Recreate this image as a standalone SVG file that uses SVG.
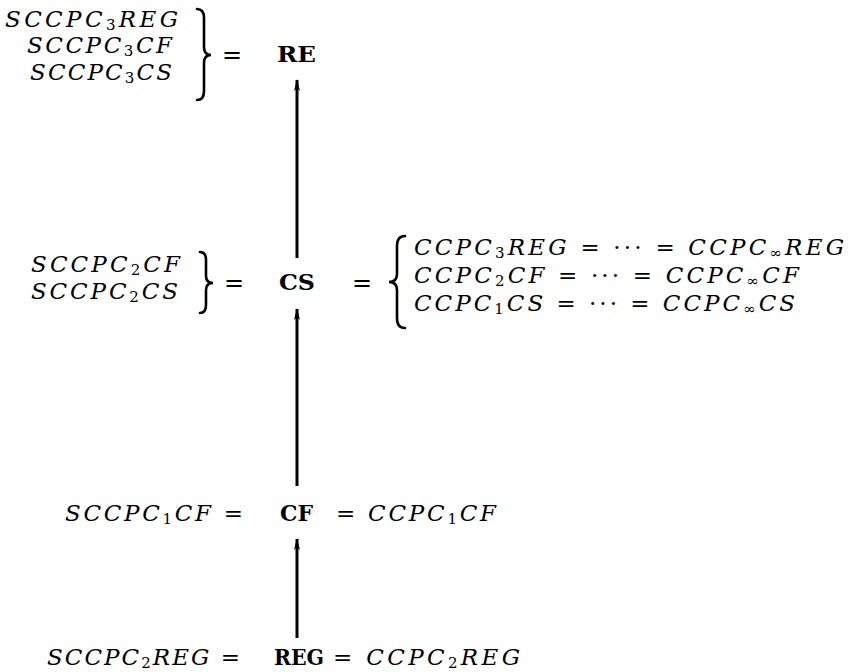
<svg xmlns="http://www.w3.org/2000/svg" width="851" height="672" viewBox="0 0 851 672">
<defs>
<style>
.m{font-family:"DejaVu Serif","Liberation Serif",serif;font-style:italic;font-size:23px;fill:#000}
.b{font-family:"DejaVu Serif","Liberation Serif",serif;font-weight:bold;font-size:22px;fill:#000}
.r{font-family:"DejaVu Serif","Liberation Serif",serif;font-style:normal;font-size:24px;fill:#000}
.u{font-style:normal}
.s{font-style:normal;font-size:15px}
.br{fill:none;stroke:#000;stroke-width:2.6;stroke-linecap:round}
.ln{stroke:#000;stroke-width:3;fill:none}
</style>
<marker id="ah" viewBox="0 0 12 8" refX="11" refY="4" markerWidth="12" markerHeight="8" markerUnits="userSpaceOnUse" orient="auto">
<path d="M12 4 L0 1 L3 4 L0 7 Z" fill="#000"/>
</marker>
</defs>
<rect width="851" height="672" fill="#fff"/>

<g id="connectors">
<line class="ln" x1="297" y1="258" x2="297" y2="80" marker-end="url(#ah)"/>
<line class="ln" x1="297" y1="486" x2="297" y2="309" marker-end="url(#ah)"/>
<line class="ln" x1="297" y1="638" x2="297" y2="539" marker-end="url(#ah)"/>
</g>

<g id="node-RE">
<text class="b" x="277" y="62" textLength="39" lengthAdjust="spacingAndGlyphs">RE</text>
</g>
<g id="RE-left">
<text class="m" x="5" y="27" textLength="173">SCCPC<tspan class="s" dy="3">3</tspan><tspan dy="-3">REG</tspan></text>
<text class="m" x="27" y="53" textLength="145">SCCPC<tspan class="s" dy="3">3</tspan><tspan dy="-3">CF</tspan></text>
<text class="m" x="30" y="80" textLength="142">SCCPC<tspan class="s" dy="3">3</tspan><tspan dy="-3">CS</tspan></text>
<path class="br" d="M197 9 Q204 9 204 18 L204 47 Q204 55 211 55 Q204 55 204 63 L204 91 Q204 100 197 100"/>
<text class="r" x="222" y="63">=</text>
</g>

<g id="node-CS">
<text class="b" x="279" y="290" textLength="36" lengthAdjust="spacingAndGlyphs">CS</text>
</g>
<g id="CS-left">
<text class="m" x="31" y="272" textLength="149">SCCPC<tspan class="s" dy="3">2</tspan><tspan dy="-3">CF</tspan></text>
<text class="m" x="31" y="299" textLength="147">SCCPC<tspan class="s" dy="3">2</tspan><tspan dy="-3">CS</tspan></text>
<path class="br" d="M200 252 Q206 252 206 260 L206 276 Q206 283 213 283 Q206 283 206 290 L206 305 Q206 313 200 313"/>
<text class="r" x="224" y="291">=</text>
</g>
<g id="CS-right">
<text class="r" x="352" y="291">=</text>
<path class="br" d="M405 236 Q397 236 397 246 L397 274 Q397 282 389 282 Q397 282 397 290 L397 318 Q397 328 405 328"/>
<text class="m" x="414" y="255" textLength="430">CCPC<tspan class="s" dy="3">3</tspan><tspan dy="-3">REG </tspan><tspan class="u">= ··· = </tspan>CCPC<tspan class="s" dy="3">∞</tspan><tspan dy="-3">REG</tspan></text>
<text class="m" x="414" y="283" textLength="385">CCPC<tspan class="s" dy="3">2</tspan><tspan dy="-3">CF </tspan><tspan class="u">= ··· = </tspan>CCPC<tspan class="s" dy="3">∞</tspan><tspan dy="-3">CF</tspan></text>
<text class="m" x="414" y="311" textLength="381">CCPC<tspan class="s" dy="3">1</tspan><tspan dy="-3">CS </tspan><tspan class="u">= ··· = </tspan>CCPC<tspan class="s" dy="3">∞</tspan><tspan dy="-3">CS</tspan></text>
</g>

<g id="node-CF">
<text class="b" x="280" y="521" textLength="33" lengthAdjust="spacingAndGlyphs">CF</text>
</g>
<g id="CF-left">
<text class="m" x="65" y="521" textLength="178">SCCPC<tspan class="s" dy="3">1</tspan><tspan dy="-3">CF </tspan><tspan class="u">=</tspan></text>
</g>
<g id="CF-right">
<text class="m" x="336" y="521" textLength="160"><tspan class="u">= </tspan>CCPC<tspan class="s" dy="3">1</tspan><tspan dy="-3">CF</tspan></text>
</g>

<g id="node-REG">
<text class="b" x="274" y="665" textLength="50" lengthAdjust="spacingAndGlyphs">REG</text>
</g>
<g id="REG-left">
<text class="m" x="47" y="665" textLength="193">SCCPC<tspan class="s" dy="3">2</tspan><tspan dy="-3">REG </tspan><tspan class="u">=</tspan></text>
</g>
<g id="REG-right">
<text class="m" x="333" y="665" textLength="187"><tspan class="u">= </tspan>CCPC<tspan class="s" dy="3">2</tspan><tspan dy="-3">REG</tspan></text>
</g>
</svg>
